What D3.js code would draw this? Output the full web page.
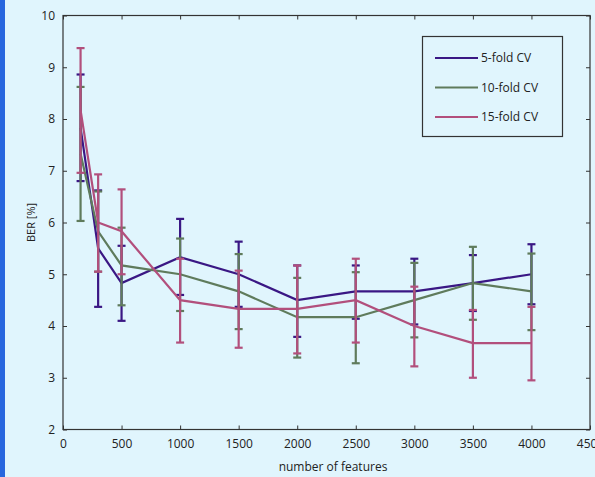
<!DOCTYPE html>
<html>
<head>
<meta charset="utf-8">
<script src="https://cdn.jsdelivr.net/npm/d3@7"></script>
<style>
  html, body { margin: 0; padding: 0; background: #e0f5fd; }
  svg { display: block; }
  text { font-family: "Open Sans", "Noto Sans", sans-serif; fill: #222; }
</style>
</head>
<body>
<div id="chart"></div>
<script>
// number of features
const features = [150, 300, 500, 1000, 1500, 2000, 2500, 3000, 3500, 4000];

// BER mean and error bar bounds per CV setting
const fold5 = [7.83, 5.5, 4.83, 5.33, 5.0, 4.5, 4.67, 4.67, 4.83, 5.0];
const fold5Lo = [6.8, 4.37, 4.1, 4.6, 4.37, 3.79, 4.14, 4.03, 4.29, 4.42];
const fold5Hi = [8.86, 6.62, 5.55, 6.07, 5.63, 5.17, 5.17, 5.3, 5.37, 5.58];

const fold10 = [7.33, 5.83, 5.17, 5.0, 4.67, 4.17, 4.17, 4.5, 4.83, 4.67];
const fold10Lo = [6.03, 5.05, 4.4, 4.29, 3.94, 3.39, 3.28, 3.78, 4.12, 3.92];
const fold10Hi = [8.62, 6.6, 5.9, 5.69, 5.39, 4.93, 5.04, 5.22, 5.53, 5.4];

const fold15 = [8.17, 6.0, 5.83, 4.5, 4.33, 4.33, 4.5, 4.0, 3.67, 3.67];
const fold15Lo = [6.96, 5.05, 5.0, 3.68, 3.58, 3.47, 3.68, 3.22, 3.0, 2.95];
const fold15Hi = [9.37, 6.93, 6.64, 5.3, 5.07, 5.17, 5.3, 4.76, 4.31, 4.37];

const seriesNames = ["5-fold CV", "10-fold CV", "15-fold CV"];
const xTicks = [0, 500, 1000, 1500, 2000, 2500, 3000, 3500, 4000, 4500];
const yTicks = [2, 3, 4, 5, 6, 7, 8, 9, 10];

const colors = ["#3a1784", "#5f7b5c", "#b24f7c"];

const series = [
  {name: seriesNames[0], mean: fold5, lo: fold5Lo, hi: fold5Hi, color: colors[0]},
  {name: seriesNames[1], mean: fold10, lo: fold10Lo, hi: fold10Hi, color: colors[1]},
  {name: seriesNames[2], mean: fold15, lo: fold15Lo, hi: fold15Hi, color: colors[2]}
];

const width = 595, height = 477;
const x = d3.scaleLinear().domain([0, 4500]).range([63, 590]);
const y = d3.scaleLinear().domain([2, 10]).range([429.5, 15.5]);

const svg = d3.select("#chart").append("svg")
    .attr("width", width)
    .attr("height", height);

svg.append("rect")
    .attr("width", width).attr("height", height)
    .attr("fill", "#e0f5fd");
svg.append("rect")
    .attr("width", 5).attr("height", height)
    .attr("fill", "#2766de");

// axes with inward ticks
const axisColor = "#333";
function styleAxis(g) {
  g.select(".domain").remove();
  g.selectAll(".tick line").attr("stroke", axisColor);
  g.selectAll(".tick text").attr("font-size", 12).attr("fill", "#222");
}

svg.append("g")
    .attr("transform", `translate(0,${y(2)})`)
    .call(d3.axisBottom(x).tickValues(xTicks).tickSize(-4).tickPadding(10).tickFormat(d3.format("d")))
    .call(styleAxis);

svg.append("g")
    .attr("transform", `translate(0,${y(10)})`)
    .call(d3.axisTop(x).tickValues(xTicks).tickSize(-4).tickFormat(""))
    .call(styleAxis);

svg.append("g")
    .attr("transform", `translate(${x(0)},0)`)
    .call(d3.axisLeft(y).tickValues(yTicks).tickSize(-4).tickPadding(8))
    .call(styleAxis);

svg.append("g")
    .attr("transform", `translate(${x(4500)},0)`)
    .call(d3.axisRight(y).tickValues(yTicks).tickSize(-4).tickFormat(""))
    .call(styleAxis);

svg.append("rect")
    .attr("x", x(0)).attr("y", y(10))
    .attr("width", x(4500) - x(0)).attr("height", y(2) - y(10))
    .attr("fill", "none")
    .attr("stroke", axisColor)
    .attr("stroke-width", 1.2);

// lines and error bars
const line = d3.line()
    .x((d, i) => x(features[i]))
    .y(d => y(d));

const cap = 4;
series.forEach(s => {
  const g = svg.append("g");
  g.selectAll("line.err")
    .data(features)
    .join("line")
      .attr("x1", d => x(d)).attr("x2", d => x(d))
      .attr("y1", (d, i) => y(s.lo[i])).attr("y2", (d, i) => y(s.hi[i]))
      .attr("stroke", s.color).attr("stroke-width", 2.2);
  ["lo", "hi"].forEach(k => {
    g.selectAll("line.cap" + k)
      .data(features)
      .join("line")
        .attr("x1", d => x(d) - cap).attr("x2", d => x(d) + cap)
        .attr("y1", (d, i) => y(s[k][i])).attr("y2", (d, i) => y(s[k][i]))
        .attr("stroke", s.color).attr("stroke-width", 2.2);
  });
  g.append("path")
      .datum(s.mean)
      .attr("d", line)
      .attr("fill", "none")
      .attr("stroke", s.color)
      .attr("stroke-width", 2.2);
});

// legend
const legend = svg.append("g");
legend.append("rect")
    .attr("x", 422.5).attr("y", 36.5)
    .attr("width", 140).attr("height", 100)
    .attr("fill", "#e0f5fd")
    .attr("stroke", axisColor)
    .attr("stroke-width", 1.2);
series.forEach((s, i) => {
  const ly = 58 + i * 29.5;
  legend.append("line")
      .attr("x1", 435).attr("x2", 478)
      .attr("y1", ly).attr("y2", ly)
      .attr("stroke", s.color).attr("stroke-width", 2.2);
  legend.append("text")
      .attr("x", 481).attr("y", ly)
      .attr("dy", "0.35em")
      .attr("font-size", 12)
      .text(s.name);
});

// axis titles
svg.append("text")
    .attr("x", 333).attr("y", 471)
    .attr("text-anchor", "middle")
    .attr("font-size", 12)
    .text("number of features");

svg.append("text")
    .attr("transform", `translate(35,${y(6)}) rotate(-90)`)
    .attr("text-anchor", "middle")
    .attr("font-size", 11)
    .text("BER [%]");
</script>
</body>
</html>
